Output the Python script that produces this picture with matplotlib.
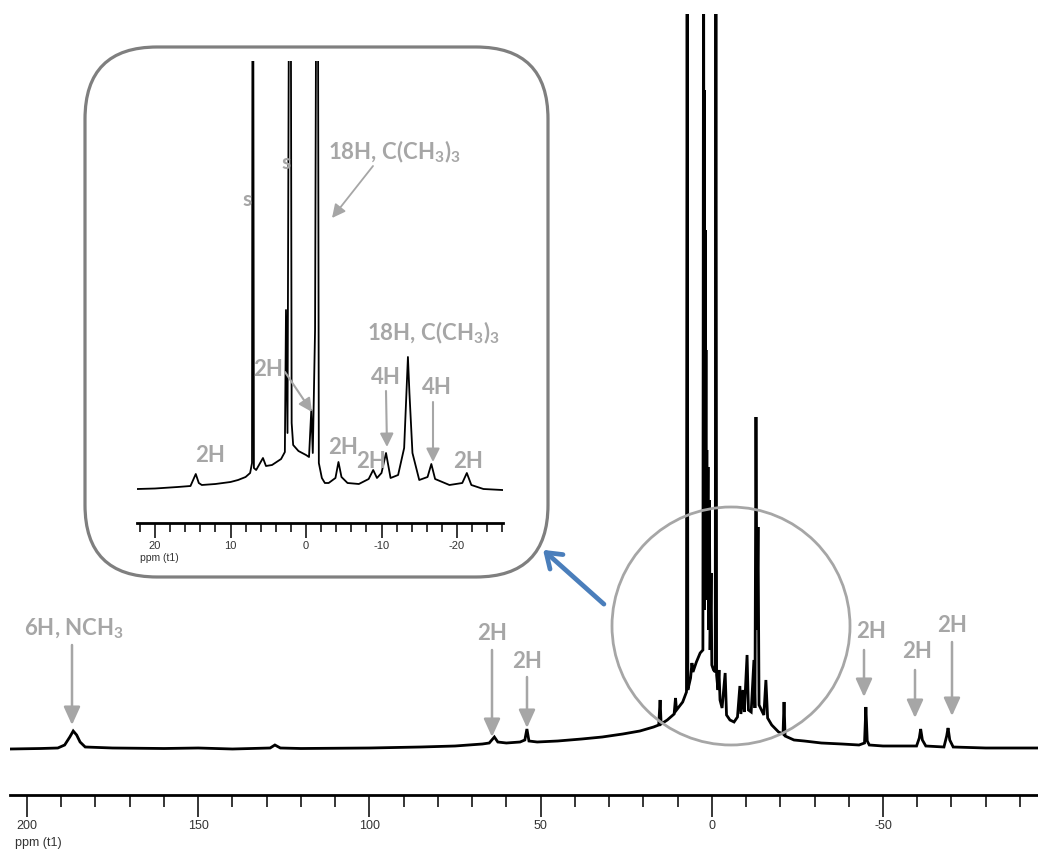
import matplotlib
matplotlib.use("Agg")
import matplotlib.pyplot as plt
import matplotlib.ticker as mticker
from matplotlib.patches import FancyBboxPatch, Circle, FancyArrowPatch

# ── main spectrum trace (ppm, intensity) ─────────────────────────────────────
MAIN_PPM = [
    205.0, 196.0, 191.0, 189.0, 187.5, 186.5, 185.5, 184.5, 183.0, 175.0,
    160.0, 150.0, 140.0, 129.0, 127.6, 126.0, 120.0, 100.0, 85.0, 75.0,
    67.0, 65.0, 63.5, 62.5, 60.0, 56.0, 54.6, 54.0, 53.4, 51.0,
    45.0, 38.0, 32.0, 26.0, 21.0, 17.0, 15.5, 15.1, 14.8, 13.0,
    11.0, 10.6, 10.3, 8.5, 7.4, 7.2, 7.0, 6.2, 5.8, 5.5,
    4.5, 3.4, 2.6, 2.4, 2.25, 2.15, 2.05, 1.95, 1.85, 1.7,
    1.6, 1.45, 1.35, 1.1, 0.95, 0.7, 0.5, 0.2, 0.0, -0.5,
    -1.0, -1.2, -1.4, -1.8, -2.1, -2.4, -3.0, -3.9, -4.3, -5.3,
    -6.5, -7.5, -8.2, -8.5, -9.1, -9.5, -10.3, -10.7, -11.5, -12.3,
    -12.6, -12.9, -13.2, -13.5, -13.8, -14.5, -15.2, -15.8, -16.3, -17.5,
    -19.5, -20.8, -21.1, -21.4, -24.0, -27.0, -32.0, -38.0, -43.0, -44.6,
    -45.0, -45.4, -46.0, -50.0, -55.0, -59.8, -60.6, -61.0, -61.5, -62.5,
    -67.8, -68.6, -69.0, -69.5, -70.5, -80.0, -90.0, -96.0,
]
MAIN_INT = [
    1, 1.5, 2, 5, 13, 19, 15, 8, 3, 2,
    1.5, 2, 1, 2, 5, 2, 1.5, 2, 3, 4,
    6, 7, 13, 8, 7, 8, 10, 21, 9, 8,
    9, 11, 13, 16, 19, 23, 25, 50, 26, 30,
    36, 52, 40, 48, 58, 900, 60, 72, 87, 78,
    88, 97, 100, 900, 140, 660, 150, 520, 160, 400,
    170, 300, 150, 283, 120, 250, 100, 177, 85, 80,
    78, 900, 75, 60, 80, 50, 42, 77, 35, 30,
    28, 33, 64, 36, 60, 38, 95, 40, 38, 90,
    42, 333, 120, 223, 45, 40, 35, 70, 32, 25,
    18, 16, 48, 14, 10, 9, 7, 6, 5, 7,
    43, 9, 5, 4, 4, 4, 12, 21, 10, 4,
    3, 14, 22, 10, 3, 2, 2, 2,
]

# ── inset (zoomed) trace ────────────────────────────────────────────────────
INSET_PPM = [
    22.3, 20.0, 17.0, 15.3, 14.6, 14.2, 13.8, 12.0, 10.0, 9.0,
    8.0, 7.4, 7.15, 7.05, 6.9, 6.6, 5.7, 5.3, 4.5, 3.3,
    2.8, 2.65, 2.45, 2.1, 1.9, 1.7, 1.0, 0.0, -0.4, -0.7,
    -0.9, -1.2, -1.5, -1.7, -2.1, -2.5, -3.0, -3.9, -4.3, -4.7,
    -5.5, -7.0, -8.3, -8.9, -9.4, -10.0, -10.6, -11.2, -12.2, -13.0,
    -13.5, -13.7, -14.1, -15.0, -16.1, -16.6, -17.1, -19.0, -20.7, -21.3,
    -21.9, -23.5, -26.0,
]
INSET_INT = [
    34, 34.5, 36, 37, 49, 40, 38, 39, 41, 43,
    46, 50, 60, 900, 55, 53, 65, 57, 58, 64,
    71, 213, 90, 900, 100, 78, 72, 68, 66, 113,
    70, 193, 900, 60, 45, 40, 40, 45, 61, 46,
    40, 39, 44, 53, 45, 50, 70, 45, 48, 75,
    166, 130, 70, 43, 46, 59, 44, 38, 40, 50,
    38, 34, 33,
]

MAIN_TICKS = [200, 150, 100, 50, 0, -50]
INSET_TICKS = [20, 10, 0, -10, -20]

LABEL_GREY = "#A6A6A6"
W, H = 1038, 858

plt.rcParams["axes.unicode_minus"] = False
plt.rcParams["mathtext.fontset"] = "custom"
plt.rcParams["mathtext.rm"] = "Lato"
plt.rcParams["mathtext.bf"] = "Lato:bold"

fig = plt.figure(figsize=(W / 100, H / 100), dpi=100)


def frac(x0, y0, x1, y1):
    # pixel box (top-left origin) -> figure fraction rect
    return [x0 / W, 1 - y1 / H, (x1 - x0) / W, (y1 - y0) / H]


def style_ppm_axis(ax, majors, minor_step, maj_len, min_len, fs):
    for s in ("top", "left", "right"):
        ax.spines[s].set_visible(False)
    ax.spines["bottom"].set_linewidth(2.0)
    ax.patch.set_alpha(0)
    ax.set_yticks([])
    ax.set_xticks(majors)
    ax.xaxis.set_minor_locator(mticker.MultipleLocator(minor_step))
    ax.tick_params(axis="x", which="major", direction="out", length=maj_len,
                   width=1.1, labelsize=fs, labelcolor="#333333", pad=2)
    ax.tick_params(axis="x", which="minor", direction="out", length=min_len,
                   width=1.1)
    for lab in ax.get_xticklabels():
        lab.set_family(["Liberation Sans Narrow", "Liberation Sans", "DejaVu Sans"])


# main spectrum
ax = fig.add_axes(frac(10, 14, W, 795), zorder=1)
ax.plot(MAIN_PPM, MAIN_INT, color="black", lw=2.0, solid_joinstyle="miter")
ax.set_xlim((711.8 - 10) / 3.424, (711.8 - W) / 3.424)
ax.set_ylim(-45, 736)
style_ppm_axis(ax, MAIN_TICKS, 10, 16, 8.5, 9)
fig.text(15 / W, 1 - 843 / H, "ppm (t1)", fontsize=9, color="#333333",
         family=["Liberation Sans Narrow", "Liberation Sans"], va="center")

# overlay in pixel coordinates (background layer: the rounded box)
bg = fig.add_axes([0, 0, 1, 1], zorder=2)
bg.set_xlim(0, W)
bg.set_ylim(H, 0)
bg.axis("off")
box = FancyBboxPatch((85, 47), 548 - 85, 577 - 47,
                     boxstyle="round,pad=0,rounding_size=72",
                     facecolor="white", edgecolor="#7F7F7F", lw=2.3)
bg.add_patch(box)

# inset spectrum
ins = fig.add_axes(frac(137, 61, 503, 523), zorder=3)
ins.plot(INSET_PPM, INSET_INT, color="black", lw=1.3)
ins.set_xlim((306 - 137) / 7.55, (306 - 503) / 7.55)
ins.set_ylim(0, 462)
style_ppm_axis(ins, INSET_TICKS, 2, 11, 6.5, 8)
fig.text(140 / W, 1 - 558 / H, "ppm (t1)", fontsize=7.5, color="#333333",
         family=["Liberation Sans Narrow", "Liberation Sans"], va="center")

# top overlay: circle, arrows, labels
top = fig.add_axes([0, 0, 1, 1], zorder=4)
top.set_xlim(0, W)
top.set_ylim(H, 0)
top.axis("off")
top.add_patch(Circle((731, 626), 119, facecolor="none",
                     edgecolor="#A6A6A6", lw=2.0))
top.add_patch(FancyArrowPatch((606, 606), (541, 548),
                              arrowstyle="->,head_length=10,head_width=7",
                              color="#4A7EBB", lw=3.4, capstyle="round",
                              joinstyle="round", mutation_scale=1))


def grey_arrow(x0, y0, x1, y1, lw=1.8, hl=11, hw=5):
    top.add_patch(FancyArrowPatch(
        (x0, y0), (x1, y1),
        arrowstyle=f"-|>,head_length={hl},head_width={hw}",
        color=LABEL_GREY, lw=lw, mutation_scale=1, shrinkA=0, shrinkB=0))


def grey_text(x, y, s, size=16, ha="center"):
    top.text(x, y, s, color=LABEL_GREY, fontsize=size, fontweight="bold",
             family=["Lato", "DejaVu Sans"], ha=ha, va="center")


C_CH3 = r"18H, C(CH$_\mathbf{3}$)$_\mathbf{3}$"

# main labels
grey_text(74, 629, r"6H, NCH$_\mathbf{3}$")
grey_arrow(72, 645, 72, 725)
grey_text(492, 633, "2H")
grey_arrow(492, 650, 492, 737)
grey_text(527, 662, "2H")
grey_arrow(527, 677, 527, 728)
grey_text(871, 632, "2H")
grey_arrow(864, 650, 864, 697)
grey_text(917, 652, "2H")
grey_arrow(915, 670, 915, 718)
grey_text(952, 626, "2H")
grey_arrow(952, 642, 952, 716)

# inset labels
grey_text(247, 200, "s", size=15)
grey_text(286, 163, "s", size=15)
grey_text(328, 152, C_CH3, ha="left")
grey_arrow(373, 166, 332, 218, lw=1.3, hl=8, hw=4)
grey_text(367, 333, C_CH3, ha="left")
grey_text(268, 370, "2H")
grey_arrow(285, 372, 312, 412, lw=1.5, hl=8, hw=4)
grey_text(386, 377, "4H")
grey_arrow(386, 391, 387, 447, lw=1.5, hl=8, hw=4)
grey_text(437, 388, "4H")
grey_arrow(433, 402, 433, 462, lw=1.5, hl=8, hw=4)
grey_text(343, 447, "2H")
grey_text(371, 462, "2H")
grey_text(468, 462, "2H")
grey_text(210, 455, "2H")

fig.savefig("out.png", dpi=100)
